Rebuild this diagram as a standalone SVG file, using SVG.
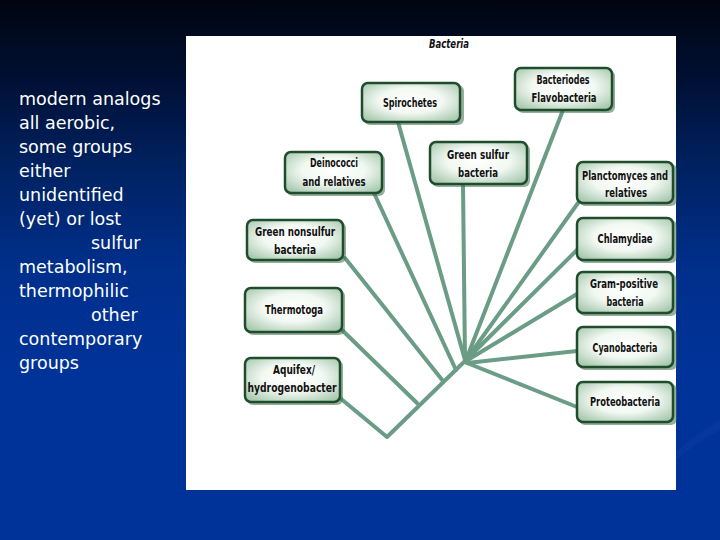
<svg xmlns="http://www.w3.org/2000/svg" width="720" height="540" viewBox="0 0 720 540">
<defs>
<linearGradient id="bg" x1="0" y1="0" x2="0" y2="1">
<stop offset="0" stop-color="#000610"/>
<stop offset="0.12" stop-color="#000d2c"/>
<stop offset="0.3" stop-color="#00215f"/>
<stop offset="0.5" stop-color="#002f8c"/>
<stop offset="0.7" stop-color="#003399"/>
<stop offset="1" stop-color="#003399"/>
</linearGradient>
<radialGradient id="box" cx="0.5" cy="0.45" r="0.65">
<stop offset="0" stop-color="#ffffff"/>
<stop offset="0.5" stop-color="#f2f8f2"/>
<stop offset="1" stop-color="#a9c9b0"/>
</radialGradient>
<style>
.node rect.b{fill:url(#box);stroke:#1f4d2c;stroke-width:2.5}
.node rect.s{fill:#3f6e4c;opacity:0.55}
.node text{font-family:"DejaVu Sans Condensed","DejaVu Sans",sans-serif;font-weight:bold;font-size:12.5px;fill:#111;text-anchor:middle}
.edges line,.edges polyline{stroke:#6b9c86;stroke-width:4;fill:none;stroke-linecap:round;stroke-linejoin:round}
.lt{font-family:"DejaVu Sans",sans-serif;font-size:17.5px;fill:#ffffff}
</style>
</defs>
<rect width="720" height="540" fill="url(#bg)"/>
<path d="M676,452 Q698,432 720,420 L720,430 Q700,440 676,460 Z" fill="#0c3ca4" opacity="0.45"/>
<g id="left-text">
<text class="lt" x="19" y="105">modern analogs</text>
<text class="lt" x="19" y="129">all aerobic,</text>
<text class="lt" x="19" y="153">some groups</text>
<text class="lt" x="19" y="177">either</text>
<text class="lt" x="19" y="201">unidentified</text>
<text class="lt" x="19" y="225">(yet) or lost</text>
<text class="lt" x="91" y="249">sulfur</text>
<text class="lt" x="19" y="273">metabolism,</text>
<text class="lt" x="19" y="297">thermophilic</text>
<text class="lt" x="91" y="321">other</text>
<text class="lt" x="19" y="345">contemporary</text>
<text class="lt" x="19" y="369">groups</text>
</g>
<rect id="panel" x="186" y="36" width="490" height="454" fill="#ffffff"/>
<text x="449" y="48" font-family="'DejaVu Sans Condensed','DejaVu Sans',sans-serif" font-weight="bold" font-style="italic" font-size="12" text-anchor="middle" textLength="40" lengthAdjust="spacingAndGlyphs" fill="#111">Bacteria</text>
<g class="edges">
<polyline points="340,398 387,437 466,360"/>
<line x1="342" y1="330" x2="417" y2="403"/>
<line x1="345" y1="258" x2="443" y2="381"/>
<line x1="374" y1="193" x2="456" y2="370"/>
<line x1="398" y1="122" x2="465" y2="360"/>
<line x1="463" y1="185" x2="465" y2="360"/>
<line x1="563" y1="110" x2="466" y2="360"/>
<line x1="578" y1="203" x2="466" y2="360"/>
<line x1="577" y1="250" x2="466" y2="360"/>
<line x1="577" y1="294" x2="466" y2="361"/>
<line x1="577" y1="351" x2="467" y2="363"/>
<line x1="577" y1="407" x2="467" y2="363"/>
</g>
<g id="spirochetes" class="node">
<rect class="s" x="364" y="85" width="100" height="40" rx="6"/>
<rect class="b" x="362" y="83" width="98" height="39" rx="6"/>
<text x="410" y="107" textLength="54" lengthAdjust="spacingAndGlyphs">Spirochetes</text>
</g>
<g id="bacteriodes" class="node">
<rect class="s" x="517" y="70" width="98" height="43" rx="6"/>
<rect class="b" x="515" y="68" width="97" height="42" rx="6"/>
<text x="563" y="84" textLength="53" lengthAdjust="spacingAndGlyphs">Bacteriodes</text>
<text x="564" y="102" textLength="65" lengthAdjust="spacingAndGlyphs">Flavobacteria</text>
</g>
<g id="green-sulfur" class="node">
<rect class="s" x="432" y="144" width="98" height="43" rx="6"/>
<rect class="b" x="430" y="142" width="97" height="42" rx="6"/>
<text x="478" y="159" textLength="62" lengthAdjust="spacingAndGlyphs">Green sulfur</text>
<text x="478" y="177" textLength="40" lengthAdjust="spacingAndGlyphs">bacteria</text>
</g>
<g id="deinococci" class="node">
<rect class="s" x="287" y="154" width="98" height="42" rx="6"/>
<rect class="b" x="285" y="152" width="97" height="41" rx="6"/>
<text x="334" y="167" textLength="48" lengthAdjust="spacingAndGlyphs">Deinococci</text>
<text x="334" y="186" textLength="63" lengthAdjust="spacingAndGlyphs">and relatives</text>
</g>
<g id="planctomyces" class="node">
<rect class="s" x="579" y="164" width="98" height="42" rx="6"/>
<rect class="b" x="577" y="162" width="96" height="41" rx="6"/>
<text x="625" y="180" textLength="86" lengthAdjust="spacingAndGlyphs">Planctomyces and</text>
<text x="626" y="197" textLength="42" lengthAdjust="spacingAndGlyphs">relatives</text>
</g>
<g id="green-nonsulfur" class="node">
<rect class="s" x="249" y="222" width="97" height="41" rx="6"/>
<rect class="b" x="247" y="220" width="96" height="40" rx="6"/>
<text x="295" y="236" textLength="80" lengthAdjust="spacingAndGlyphs">Green nonsulfur</text>
<text x="295" y="254" textLength="42" lengthAdjust="spacingAndGlyphs">bacteria</text>
</g>
<g id="chlamydiae" class="node">
<rect class="s" x="579" y="220" width="98" height="43" rx="6"/>
<rect class="b" x="577" y="218" width="96" height="42" rx="6"/>
<text x="625" y="243" textLength="55" lengthAdjust="spacingAndGlyphs">Chlamydiae</text>
</g>
<g id="gram-positive" class="node">
<rect class="s" x="579" y="274" width="98" height="42" rx="6"/>
<rect class="b" x="577" y="272" width="96" height="41" rx="6"/>
<text x="624" y="288" textLength="68" lengthAdjust="spacingAndGlyphs">Gram-positive</text>
<text x="625" y="306" textLength="37" lengthAdjust="spacingAndGlyphs">bacteria</text>
</g>
<g id="thermotoga" class="node">
<rect class="s" x="247" y="290" width="98" height="45" rx="6"/>
<rect class="b" x="245" y="288" width="97" height="44" rx="6"/>
<text x="294" y="314" textLength="58" lengthAdjust="spacingAndGlyphs">Thermotoga</text>
</g>
<g id="cyanobacteria" class="node">
<rect class="s" x="579" y="329" width="98" height="41" rx="6"/>
<rect class="b" x="577" y="327" width="96" height="40" rx="6"/>
<text x="625" y="352" textLength="65" lengthAdjust="spacingAndGlyphs">Cyanobacteria</text>
</g>
<g id="aquifex" class="node">
<rect class="s" x="247" y="360" width="96" height="45" rx="6"/>
<rect class="b" x="245" y="358" width="95" height="44" rx="6"/>
<text x="294" y="374" textLength="42" lengthAdjust="spacingAndGlyphs">Aquifex/</text>
<text x="292" y="392" textLength="89" lengthAdjust="spacingAndGlyphs">hydrogenobacter</text>
</g>
<g id="proteobacteria" class="node">
<rect class="s" x="579" y="384" width="98" height="41" rx="6"/>
<rect class="b" x="577" y="382" width="96" height="40" rx="6"/>
<text x="625" y="406" textLength="70" lengthAdjust="spacingAndGlyphs">Proteobacteria</text>
</g>
</svg>
